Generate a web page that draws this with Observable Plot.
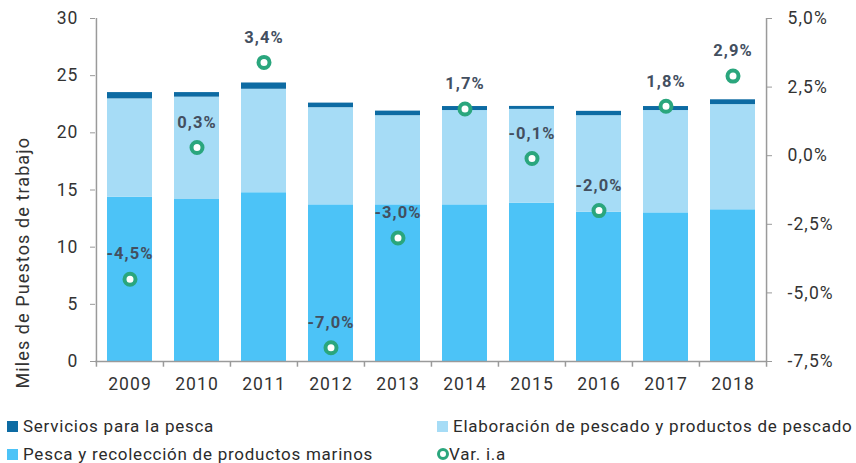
<!DOCTYPE html>
<html>
<head>
<meta charset="utf-8">
<script src="https://cdn.jsdelivr.net/npm/d3@7"></script>
<script src="https://cdn.jsdelivr.net/npm/@observablehq/plot@0.6"></script>
<style>
  html, body { margin: 0; padding: 0; background: #fff; }
  #wrap { position: relative; width: 856px; height: 463px; font-family: Roboto, sans-serif; overflow: hidden; }
  #legend { position: absolute; left: 0; top: 400px; width: 856px; height: 63px; }
  .li { position: absolute; font-size: 17px; letter-spacing: 0.75px; color: #2b2b2b; line-height: 18px; white-space: nowrap; }
  .sw { position: absolute; width: 11px; height: 11px; }
  .ring { position: absolute; width: 6px; height: 6px; border: 3px solid #2aa67d; border-radius: 50%; background: #fff; }
</style>
</head>
<body>
<div id="wrap"><div id="chart"></div><div id="legend"></div></div>
<script>
const years = ["2009","2010","2011","2012","2013","2014","2015","2016","2017","2018"];
const seriesNames = ["Pesca y recolección de productos marinos", "Elaboración de pescado y productos de pescado", "Servicios para la pesca"];
const seriesColors = ["#4cc3f7", "#a6dcf6", "#0d6ba3"];
const pesca = [14.37, 14.17, 14.76, 13.7, 13.7, 13.7, 13.85, 13.05, 13.0, 13.27];
const elaboracion = [8.6, 8.95, 9.05, 8.5, 7.8, 8.25, 8.2, 8.45, 8.95, 9.2];
const servicios = [0.55, 0.4, 0.55, 0.4, 0.4, 0.35, 0.26, 0.38, 0.35, 0.42];
const varIA = [-4.5, 0.3, 3.4, -7.0, -3.0, 1.7, -0.1, -2.0, 1.8, 2.9];
const leftTicks = [0, 5, 10, 15, 20, 25, 30];
const rightTicks = [-7.5, -5.0, -2.5, 0.0, 2.5, 5.0];
const yLabel = "Miles de Puestos de trabajo";
const varLabel = "Var. i.a";

const W = 856, H = 400, mL = 95, mR = 90, mT = 18, mB = 39;
const step = (W - mL - mR) / years.length;
const leftMax = 30, rMin = -7.5, rMax = 5.0;
const toLeft = v => (v - rMin) * leftMax / (rMax - rMin);
const fromLeft = y => y * (rMax - rMin) / leftMax + rMin;
const fmtPct = v => (Math.abs(v) < 1e-9 ? 0 : v).toFixed(1).replace(".", ",") + "%";

const stacked = [];
const cols = [pesca, elaboracion, servicios];
years.forEach((yr, i) => cols.forEach((c, s) => stacked.push({year: yr, series: seriesNames[s], value: c[i]})));
const varData = years.map((yr, i) => ({year: yr, v: varIA[i]}));

const plot = Plot.plot({
  width: W, height: H,
  marginLeft: mL, marginRight: mR, marginTop: mT, marginBottom: mB,
  style: {fontFamily: "Roboto, sans-serif", background: "white", overflow: "visible", letterSpacing: "1.1px"},
  x: {type: "band", domain: years, paddingInner: 0.33, paddingOuter: 0.165, axis: null},
  y: {domain: [0, leftMax], axis: null},
  color: {domain: seriesNames, range: seriesColors},
  marks: [
    Plot.barY(stacked, {x: "year", y: "value", fill: "series", order: seriesNames}),
    Plot.ruleY([0], {stroke: "#9a9a9a", strokeWidth: 1.5}),
    Plot.ruleX(years, {x: d => d, dx: -step / 2, y1: 0, y2: -0.5, stroke: "#9a9a9a", strokeWidth: 1.5}),
    Plot.ruleX([years[years.length - 1]], {x: d => d, dx: step / 2, y1: -0.5, y2: leftMax, stroke: "#9a9a9a", strokeWidth: 1.5}),
    Plot.ruleX([years[0]], {x: d => d, dx: -step / 2, y1: 0, y2: leftMax, stroke: "#9a9a9a", strokeWidth: 1.5}),
    Plot.axisY({anchor: "left", ticks: leftTicks, tickSize: 5, tickPadding: 12, fontSize: 17.5, fill: "#333", stroke: "#9a9a9a", label: null}),
    Plot.axisY({anchor: "right", ticks: rightTicks.map(toLeft), tickFormat: d => fmtPct(fromLeft(d)), tickSize: 5, tickPadding: 16, fontSize: 17.5, fill: "#333", stroke: "#9a9a9a", label: null}),
    Plot.axisX({anchor: "bottom", tickSize: 0, tickPadding: 16, fontSize: 17.5, fill: "#333", label: null}),
    Plot.text([yLabel], {frameAnchor: "bottom-left", text: d => d, rotate: -90, textAnchor: "start", lineAnchor: "middle", dx: -72, dy: 27, fontSize: 18, fill: "#333"}),
    Plot.dot(varData, {x: "year", y: d => toLeft(d.v), r: 5.5, stroke: "#2aa67d", strokeWidth: 4, fill: "white"}),
    Plot.text(varData, {x: "year", y: d => toLeft(d.v), text: d => fmtPct(d.v), dy: -25, fontSize: 16.5, fontWeight: "bold", fill: "#434f5f"})
  ]
});
document.getElementById("chart").appendChild(plot);

const legend = document.getElementById("legend");
function addItem(x, cy, label, color, ring) {
  const sw = document.createElement("div");
  if (ring) { sw.className = "ring"; sw.style.left = (x - 1) + "px"; sw.style.top = (cy - 6) + "px"; }
  else { sw.className = "sw"; sw.style.left = x + "px"; sw.style.top = (cy - 5.5) + "px"; sw.style.background = color; }
  legend.appendChild(sw);
  const t = document.createElement("div");
  t.className = "li"; t.textContent = label;
  t.style.left = (x + (ring ? 11 : 16)) + "px"; t.style.top = (cy - 9) + "px";
  legend.appendChild(t);
}
addItem(7, 26, seriesNames[2], seriesColors[2]);
addItem(437, 26, seriesNames[1], seriesColors[1]);
addItem(7, 54, seriesNames[0], seriesColors[0]);
addItem(438, 54, varLabel, null, true);
</script>
</body>
</html>
